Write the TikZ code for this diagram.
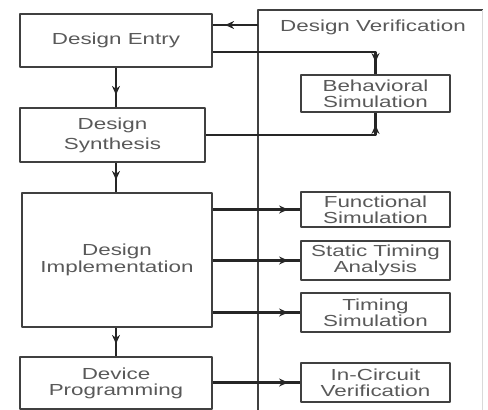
\documentclass[tikz,border=0pt]{standalone}
\usepackage{fontspec}
\setmainfont{Liberation Sans}[FakeStretch=1.4]
\usetikzlibrary{arrows.meta,decorations.markings}
\begin{document}
\begin{tikzpicture}[x=1pt, y=-1pt, line join=round, >={Stealth[length=9pt,width=8pt]},
	font=\fontsize{16}{16}\selectfont,
	stage/.style={draw=black!75, line width=2.2pt, text=black!65, align=center, inner sep=0pt},
	check/.style={stage, line width=1.8pt, minimum width=149pt},
	link/.style={line width=2.4pt, draw=black!85, postaction={decorate},
		decoration={markings, mark=at position -12pt with {\arrow{>}}}}]
	\def\vx{258}
	\useasboundingbox (0,0) rectangle (488,410);
	% verification panel
	\draw[line width=2.4pt, black!75] (\vx,410) -- (\vx,10) -- (483,10);
	\draw[black!15] (482,10) -- (482,410);
	\node[text=black!65] (title) at (373,27) {Design Verification};
	% design flow
	\node[stage, minimum width=192pt, minimum height=53pt] (entry) at (116,40.5) {Design Entry};
	\node[stage, minimum width=185pt, minimum height=54pt, font=\fontsize{16}{20}\selectfont] (synth) at (112.5,135) {Design\\Synthesis};
	\node[stage, minimum width=190pt, minimum height=134pt, font=\fontsize{16}{17}\selectfont] (impl) at (117,260) {Design\\Implementation};
	\node[stage, minimum width=192pt, minimum height=52pt] (prog) at (116,383) {Device\\Programming};
	% verification steps
	\node[check, minimum height=37pt] (behav) at (375.5,93.5) {Behavioral\\Simulation};
	\node[check, minimum height=35pt] (func) at (375.5,209.5) {Functional\\Simulation};
	\node[check, minimum height=39pt] (sta) at (375.5,260.5) {Static Timing\\Analysis};
	\node[check, minimum height=39pt] (tsim) at (375.5,312.5) {Timing\\Simulation};
	\node[check, minimum height=39pt] (icv) at (375.5,382.5) {In-Circuit\\Verification};
	% connectors
	\coordinate (back) at (\vx,25);
	\draw[link] (back) -- (back -| entry.east);
	\draw[link] (entry.east |- 0,52) -| (behav.north);
	\draw[link] (synth.east) -| (behav.south);
	\draw[link] (entry.south) -- (entry.south |- synth.north);
	\draw[link] (entry.south |- synth.south) -- (entry.south |- impl.north);
	\draw[link] (entry.south |- impl.south) -- (entry.south |- prog.north);
	\foreach \b in {func,sta,tsim}
		\draw[link] (impl.east |- \b.west) -- (\b.west);
	\draw[link] (prog.east |- icv.west) -- (icv.west);
\end{tikzpicture}
\end{document}
